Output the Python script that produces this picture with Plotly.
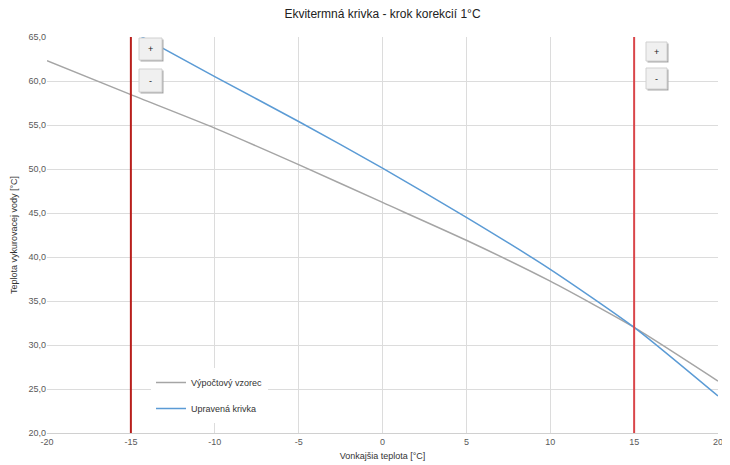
import plotly.graph_objects as go

# Data
outdoor_gray = [-20, -15, -10, -5, 0, 5, 10, 15, 20]
water_gray = [62.3, 58.45, 54.65, 50.5, 46.2, 41.9, 37.25, 32.0, 25.9]

outdoor_blue = [-15, -10, -5, 0, 5, 10, 15, 20]
water_blue = [65.7, 60.5, 55.4, 50.1, 44.5, 38.6, 32.0, 24.2]

limit_x = [-15, 15]
limit_colors = ["#B81F1C", "#D9464A"]

x_ticks = [-20, -15, -10, -5, 0, 5, 10, 15, 20]
x_labels = ["-20", "-15", "-10", "-5", "0", "5", "10", "15", "20"]
y_ticks = [20, 25, 30, 35, 40, 45, 50, 55, 60, 65]
y_labels = ["20,0", "25,0", "30,0", "35,0", "40,0", "45,0", "50,0", "55,0", "60,0", "65,0"]

# page body has an 8px margin; figure sized to fill the remaining window
OFF = 8
WIN_W, WIN_H = 730, 465
W, H = WIN_W - OFF, WIN_H - OFF
# plot area in window pixels: left 47, right 718, top 37, bottom 433
ML, MR, MT, MB = 47 - OFF, WIN_W - 718, 37 - OFF, WIN_H - 433
PW, PH = W - ML - MR, H - MT - MB

def px(x):
    return (x - OFF - ML) / PW

def py(y):
    return (H - MB - (y - OFF)) / PH

fig = go.Figure()
fig.add_trace(go.Scatter(x=outdoor_gray, y=water_gray, mode="lines",
                         name="Výpočtový vzorec", legendgroup="a",
                         line=dict(color="#A5A5A5", width=1.5, shape="spline", smoothing=0.6)))
fig.add_trace(go.Scatter(x=outdoor_blue, y=water_blue, mode="lines",
                         name="Upravená krivka", legendgroup="b",
                         line=dict(color="#5B9BD5", width=1.5, shape="spline", smoothing=0.6)))

shapes = []
for xv, c in zip(limit_x, limit_colors):
    shapes.append(dict(type="line", xref="x", yref="paper", x0=xv, x1=xv, y0=0, y1=1,
                       line=dict(color=c, width=2)))

annotations = []
buttons = [(139, 38, 162, 60, "+"), (139, 69, 162, 92, "-"),
           (646, 42, 667, 61, "+"), (646, 68, 667, 89, "-")]
for x0, y0, x1, y1, t in buttons:
    shapes.append(dict(type="rect", xref="paper", yref="paper",
                       x0=px(x0 + 1.5), x1=px(x1 + 1.5), y0=py(y1 + 1.5), y1=py(y0 + 1.5),
                       fillcolor="#A8A8A8", line=dict(width=0), layer="above"))
    shapes.append(dict(type="rect", xref="paper", yref="paper",
                       x0=px(x0), x1=px(x1), y0=py(y1), y1=py(y0),
                       fillcolor="#F0F0F0", line=dict(color="#D0D0D0", width=1), layer="above"))
    annotations.append(dict(xref="paper", yref="paper", x=px((x0 + x1) / 2), y=py((y0 + y1) / 2),
                            text=t, showarrow=False, font=dict(size=9, color="#222222"),
                            xanchor="center", yanchor="middle"))

fig.update_layout(
    width=W, height=H,
    margin=dict(l=ML, r=MR, t=MT, b=MB, autoexpand=False),
    paper_bgcolor="white", plot_bgcolor="white",
    font=dict(family="Liberation Sans, Arial, sans-serif", size=9, color="#404040"),
    title=dict(text="Ekvitermná krivka - krok korekcií 1°C", x=0.5, xref="paper",
               y=1 - (14 - OFF) / H, yanchor="middle",
               font=dict(size=12, color="#222222")),
    xaxis=dict(range=[-20, 20], tickvals=x_ticks, ticktext=x_labels, automargin=False,
               showgrid=True, gridcolor="#DCDCDC", gridwidth=1, zeroline=False,
               showline=True, linecolor="#D0D0D0", ticks="", ticklen=0,
               tickfont=dict(size=9, color="#595959"),
               title=dict(text="Vonkajšia teplota [°C]", font=dict(size=9, color="#333333"), standoff=6)),
    yaxis=dict(range=[20, 65], tickvals=y_ticks, ticktext=y_labels, automargin=False,
               showgrid=True, gridcolor="#DCDCDC", gridwidth=1, zeroline=False,
               showline=False, ticks="",
               tickfont=dict(size=9, color="#595959"),
               title=dict(text="Teplota vykurovacej vody [°C]", font=dict(size=9, color="#333333"), standoff=9)),
    legend=dict(x=px(151), y=py(368), xanchor="left", yanchor="top",
                bgcolor="white", borderwidth=0, font=dict(size=9, color="#333333"),
                tracegroupgap=7, itemwidth=30),
    shapes=shapes,
    annotations=annotations,
)

fig.write_html("out.html")
